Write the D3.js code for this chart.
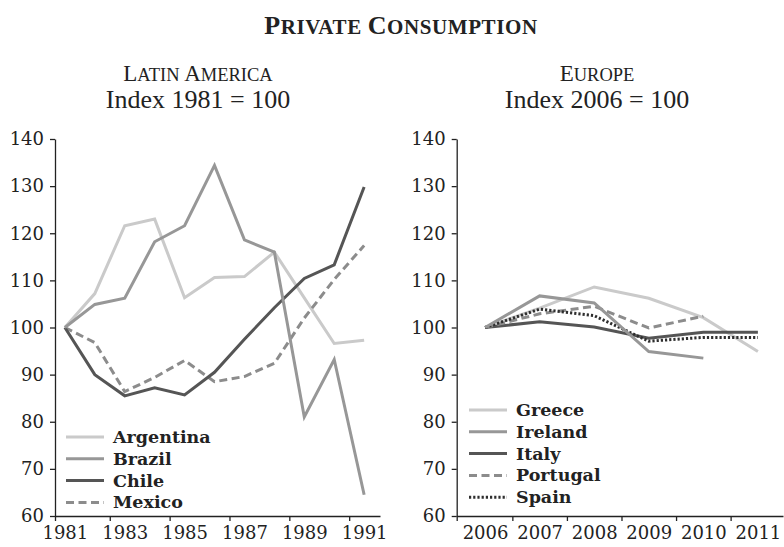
<!DOCTYPE html>
<html>
<head>
<meta charset="utf-8">
<script src="https://cdn.jsdelivr.net/npm/d3@7"></script>
<style>
  body { margin: 0; background: #fff; }
  svg { display: block; }
  .tick text { font-family: "DejaVu Serif", serif; font-size: 18px; fill: #222; }
  .domain, .tick line { stroke: #222; stroke-width: 1.3; }
</style>
</head>
<body>
<div id="chart"></div>
<script>
// Latin America, index 1981 = 100
const laYears = [1981, 1982, 1983, 1984, 1985, 1986, 1987, 1988, 1989, 1990, 1991];
const argentina = [100, 107.2, 121.6, 123, 106.3, 110.6, 110.8, 116, 106.3, 96.6, 97.3];
const brazil    = [100, 104.9, 106.2, 118.2, 121.6, 134.4, 118.6, 116, 81, 93.2, 64.5];
const chile     = [100, 90, 85.5, 87.2, 85.7, 90.5, 97.5, 104.2, 110.4, 113.3, 129.8];
const mexico    = [100, 96.8, 86.4, 89.4, 93, 88.5, 89.6, 92.4, 102, 110.2, 117.4];

// Europe, index 2006 = 100
const euYears  = [2006, 2007, 2008, 2009, 2010, 2011];
const greece   = [100, 104.1, 108.6, 106.2, 102.1, 94.9];
const ireland  = [100, 106.7, 105.2, 94.9, 93.5];
const italy    = [100, 101.2, 100.1, 97.7, 99, 99];
const portugal = [100, 102.9, 104.5, 99.9, 102.4];
const spain    = [100, 103.9, 102.5, 97.1, 97.9, 97.9];

const yTicks = [60, 70, 80, 90, 100, 110, 120, 130, 140];
const laLabels = [1981, 1983, 1985, 1987, 1989, 1991];
const laTickMarks = [1980.67, 1982.5, 1984.5, 1986.5, 1988.5, 1990.5];
const euLabels = [2006, 2007, 2008, 2009, 2010, 2011];
const euTickMarks = [2005.48, 2006.5, 2007.5, 2008.5, 2009.5, 2010.5];

const width = 784, height = 547;

const svg = d3.select('#chart').append('svg')
  .attr('width', width)
  .attr('height', height);

// small caps done by hand with tspans
function smallCaps(sel, parts, big, small) {
  parts.forEach((p, i) => {
    sel.append('tspan')
      .attr('font-size', i % 2 === 0 ? big : small)
      .text(p);
  });
}

const title = svg.append('text')
  .attr('x', 401).attr('y', 34)
  .attr('text-anchor', 'middle')
  .attr('font-family', '"Liberation Serif", serif')
  .attr('font-weight', 'bold')
  .attr('letter-spacing', 0.6)
  .attr('fill', '#222');
smallCaps(title, ['P', 'RIVATE ', 'C', 'ONSUMPTION'], 26, 21);

const y = d3.scaleLinear().domain([60, 140]).range([516, 139]);
const lineStyles = {
  light:  { color: '#cacaca', dash: null },
  mid:    { color: '#979797', dash: null },
  dark:   { color: '#555555', dash: null },
  dashed: { color: '#8c8c8c', dash: '8,4.5' },
  dotted: { color: '#2e2e2e', dash: '2.2,2' }
};

function panel(opts) {
  const g = svg.append('g');
  const x = d3.scaleLinear().domain(opts.xDomain).range(opts.xRange);

  const head = g.append('text')
    .attr('x', opts.center).attr('y', 81)
    .attr('text-anchor', 'middle')
    .attr('font-family', '"Liberation Serif", serif')
    .attr('fill', '#222');
  smallCaps(head, opts.head, 23, 18.5);

  g.append('text')
    .attr('x', opts.center).attr('y', 108)
    .attr('text-anchor', 'middle')
    .attr('font-family', '"Liberation Serif", serif')
    .attr('font-size', 26)
    .attr('fill', '#222')
    .text(opts.sub);

  g.append('g')
    .attr('transform', `translate(${opts.xRange[0]},0)`)
    .call(d3.axisLeft(y).tickValues(yTicks).tickSize(5).tickSizeOuter(0).tickPadding(6));

  g.append('g')
    .attr('transform', `translate(0,${y(60)})`)
    .call(d3.axisBottom(x).tickValues(opts.tickMarks).tickFormat('').tickSize(5).tickSizeOuter(0));

  const lbl = g.append('g')
    .attr('transform', `translate(0,${y(60)})`)
    .call(d3.axisBottom(x).tickValues(opts.labels).tickFormat(d3.format('d')).tickSize(0).tickPadding(10));
  lbl.select('.domain').remove();

  const line = d3.line()
    .x((d, i) => x(opts.years[i]))
    .y(d => y(d));

  opts.series.forEach(s => {
    const st = lineStyles[s.style];
    g.append('path')
      .datum(s.values)
      .attr('fill', 'none')
      .attr('stroke', st.color)
      .attr('stroke-width', 3)
      .attr('stroke-dasharray', st.dash)
      .attr('d', line);
  });

  // legend
  const leg = g.append('g').selectAll('g')
    .data(opts.series.slice().sort((a, b) => a.order - b.order))
    .join('g')
    .attr('transform', (d, i) => `translate(${opts.legendX},${opts.legendY + i * 21.8})`);

  leg.append('line')
    .attr('x1', 0).attr('x2', 38)
    .attr('stroke', d => lineStyles[d.style].color)
    .attr('stroke-width', 3)
    .attr('stroke-dasharray', d => lineStyles[d.style].dash);

  leg.append('text')
    .attr('x', 47).attr('y', 6)
    .attr('font-family', '"DejaVu Serif", serif')
    .attr('font-weight', 'bold')
    .attr('font-size', 17.5)
    .attr('fill', '#222')
    .text(d => d.name);
}

panel({
  head: ['L', 'ATIN ', 'A', 'MERICA'],
  sub: 'Index 1981 = 100',
  center: 198,
  xDomain: [1980.67, 1991.53],
  xRange: [55, 380],
  years: laYears,
  labels: laLabels,
  tickMarks: laTickMarks,
  legendX: 66,
  legendY: 437,
  series: [
    { name: 'Argentina', values: argentina, style: 'light', order: 0 },
    { name: 'Mexico', values: mexico, style: 'dashed', order: 3 },
    { name: 'Chile', values: chile, style: 'dark', order: 2 },
    { name: 'Brazil', values: brazil, style: 'mid', order: 1 }
  ]
});

panel({
  head: ['E', 'UROPE'],
  sub: 'Index 2006 = 100',
  center: 597,
  xDomain: [2005.48, 2011.46],
  xRange: [456.7, 783],
  years: euYears,
  labels: euLabels,
  tickMarks: euTickMarks,
  legendX: 469,
  legendY: 410,
  series: [
    { name: 'Greece', values: greece, style: 'light', order: 0 },
    { name: 'Italy', values: italy, style: 'dark', order: 2 },
    { name: 'Portugal', values: portugal, style: 'dashed', order: 3 },
    { name: 'Spain', values: spain, style: 'dotted', order: 4 },
    { name: 'Ireland', values: ireland, style: 'mid', order: 1 }
  ]
});
</script>
</body>
</html>
